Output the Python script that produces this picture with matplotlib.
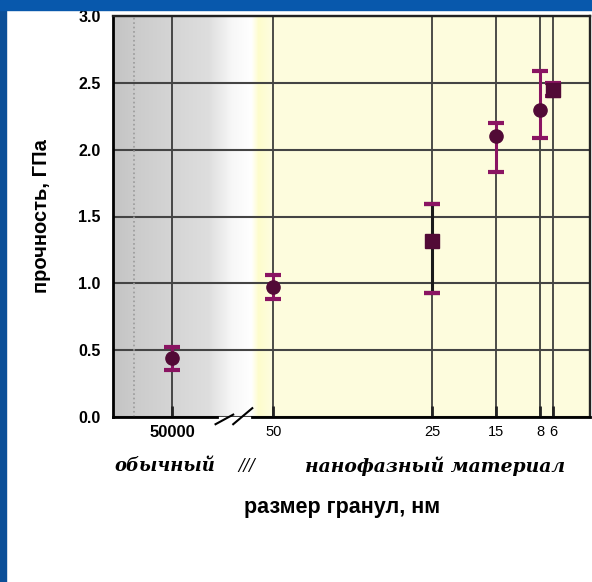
import numpy as np
import matplotlib
matplotlib.use('Agg')
import matplotlib.pyplot as plt
from matplotlib.patches import Rectangle

plt.rcParams['font.family'] = ['Liberation Sans', 'DejaVu Sans']

# данные: размер гранул (нм) и прочность (ГПа)
sizes = [50000, 50, 25, 15, 8, 6]
strength = [0.44, 0.97, 1.32, 2.10, 2.30, 2.45]
err_low = [0.09, 0.09, 0.39, 0.27, 0.21, 0.05]
err_high = [0.08, 0.09, 0.27, 0.10, 0.29, 0.05]
markers = ['o', 'o', 's', 'o', 'o', 's']
tick_labels = ['50000', '50', '25', '15', '8', '6']
y_ticks = [0.0, 0.5, 1.0, 1.5, 2.0, 2.5, 3.0]

# разрывная шкала: линейная до 50 нм, логарифмическая выше
K = 5.3


def fwd(d):
    d = np.asarray(d, dtype=float)
    return np.where(d <= 50, d - 50, K * np.log10(np.maximum(d, 50) / 50))


def inv(u):
    u = np.asarray(u, dtype=float)
    return np.where(u <= 0, u + 50, 50 * 10 ** (np.minimum(u, 60) / K))


fig = plt.figure(figsize=(5.92, 5.82), dpi=100)
fig.patch.set_facecolor('white')
fig.patches.append(Rectangle((0, 0), 6 / 592, 1, transform=fig.transFigure,
                             color='#0b4f98', zorder=0))
fig.patches.append(Rectangle((0, 1 - 10 / 582), 1, 10 / 582, transform=fig.transFigure,
                             color='#0858ac', zorder=0))

ax = fig.add_axes([113 / 592, 1 - 417 / 582, 477 / 592, 401 / 582])
ax.set_xscale('function', functions=(fwd, inv))
ax.set_xlim(inv(25.2), 0.2)
ax.set_ylim(0, 3.0)

# фон: серый градиент слева, светло-жёлтый справа
fx = np.linspace(0, 1, 500)
stops = [0.0, 0.05, 0.2, 0.25, 0.29, 0.305, 0.33, 1.0]
r = np.interp(fx, stops, [0.77, 0.80, 0.87, 0.97, 1.0, 0.995, 0.995, 0.995])
g = np.interp(fx, stops, [0.77, 0.80, 0.87, 0.97, 1.0, 0.99, 0.99, 0.99])
b = np.interp(fx, stops, [0.77, 0.80, 0.87, 0.97, 1.0, 0.80, 0.87, 0.87])
img = np.dstack([r, g, b])
ax.imshow(img, extent=[0, 1, 0, 1], transform=ax.transAxes, aspect='auto', zorder=0)
ax.plot([0.045, 0.045], [0, 1], transform=ax.transAxes, ls=':', lw=1.2,
        color='#9a9a9a', zorder=1)

ax.set_xticks(sizes)
ax.set_xticklabels(tick_labels)
ax.set_yticks(y_ticks)
ax.set_yticklabels([f'{v:.1f}' for v in y_ticks], fontsize=11.5, fontweight='bold')
ax.xaxis.set_minor_locator(matplotlib.ticker.NullLocator())
ax.grid(axis='x', color='#2e2e2e', lw=1.2, zorder=1)
ax.grid(axis='y', color='#444444', lw=1.5, zorder=1)
ax.set_axisbelow(True)
ax.tick_params(axis='x', direction='in', length=8, width=2, pad=6, color='#222222')
ax.tick_params(axis='y', length=0, pad=9)
for lab in ax.get_xticklabels():
    if lab.get_text() == '50000':
        lab.set_fontsize(12)
        lab.set_fontweight('bold')
    else:
        lab.set_fontsize(10.5)

for x, y, lo, hi, m in zip(sizes, strength, err_low, err_high, markers):
    line_col = '#1a1a1a' if m == 's' and lo > 0.1 else '#8a1462'
    ax.errorbar([x], [y], yerr=[[lo], [hi]], fmt=m, color='#520a36', ms=9.5,
                ecolor=line_col, elinewidth=2.2, capsize=6, capthick=3, zorder=4)
    if line_col != '#8a1462':
        ax.errorbar([x], [y], yerr=[[lo], [hi]], fmt='none', ecolor='#8a1462',
                    elinewidth=0, capsize=6, capthick=3, zorder=4)

# рамка и разрыв оси
for side in ['top', 'right']:
    ax.spines[side].set_color('#222222')
    ax.spines[side].set_linewidth(1.7)
ax.spines['left'].set_linewidth(2)
ax.spines['bottom'].set_visible(False)
ax.plot([0, 0.218], [0, 0], transform=ax.transAxes, color='black', lw=2,
        clip_on=False, zorder=5)
ax.plot([0.291, 1], [0, 0], transform=ax.transAxes, color='black', lw=2,
        clip_on=False, zorder=5)
ax.plot([0.215, 0.252], [-0.018, 0.006], transform=ax.transAxes, color='black',
        lw=1.5, clip_on=False, zorder=6)
ax.plot([0.252, 0.292], [-0.018, 0.022], transform=ax.transAxes, color='black',
        lw=1.5, clip_on=False, zorder=6)

ax.set_ylabel('прочность, ГПа', fontsize=14.5, fontweight='bold')
ax.yaxis.set_label_coords(-0.13, 0.5)

fig.text(165 / 592, 1 - 466 / 582, 'обычный', fontsize=13, family='DejaVu Serif',
         style='italic', fontweight='bold', ha='center', va='center')
fig.text(247 / 592, 1 - 466 / 582, '///', fontsize=12, family='DejaVu Serif',
         style='italic', ha='center', va='center')
fig.text(435 / 592, 1 - 466 / 582, 'нанофазный материал', fontsize=13.5,
         family='DejaVu Serif', style='italic', fontweight='bold', ha='center',
         va='center')
fig.text(342 / 592, 1 - 508 / 582, 'размер гранул, нм', fontsize=15.5,
         fontweight='bold', ha='center', va='center')

fig.savefig('out.png', dpi=100)
